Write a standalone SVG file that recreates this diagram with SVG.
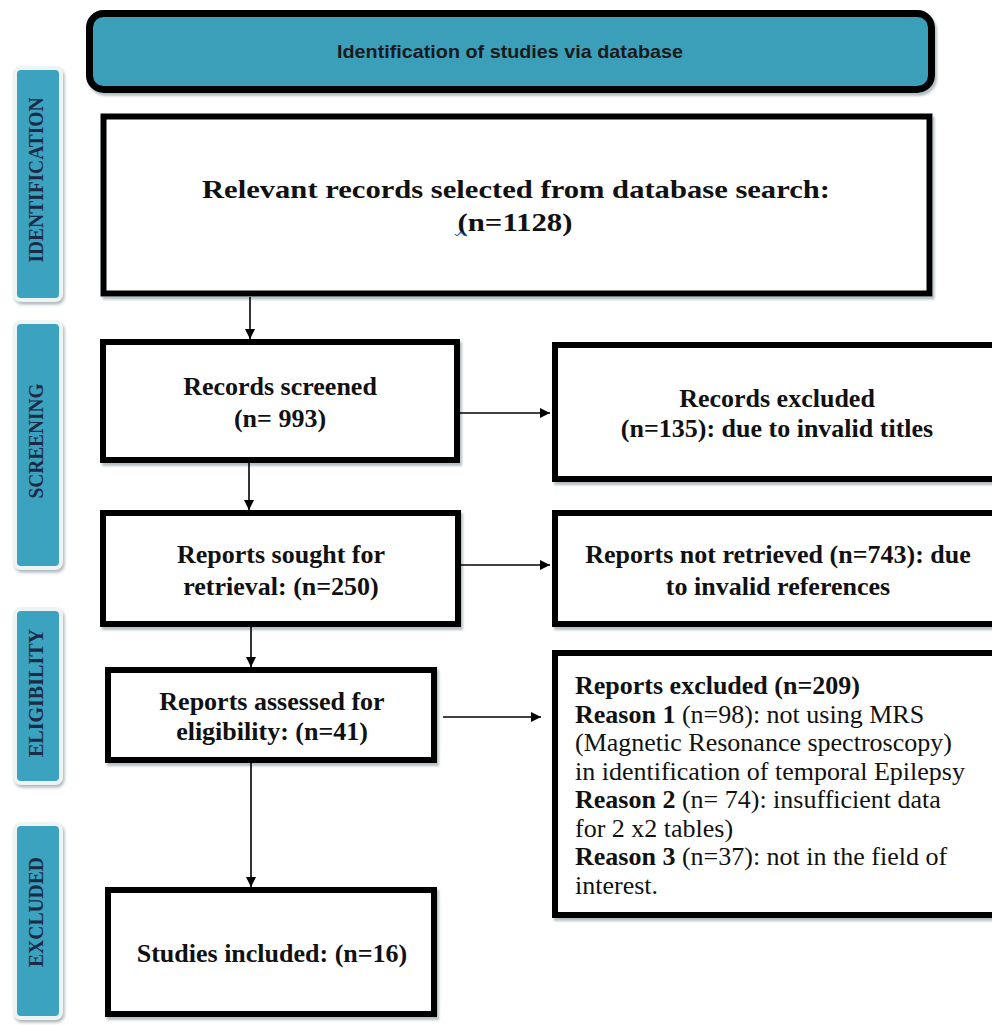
<svg xmlns="http://www.w3.org/2000/svg" width="992" height="1025" viewBox="0 0 992 1025">
  <defs>
    <filter id="shadow" x="-5%" y="-5%" width="110%" height="115%">
      <feDropShadow dx="2" dy="3" stdDeviation="1.2" flood-color="#7a8a90" flood-opacity="0.55"/>
    </filter>
    <filter id="tabShadow" x="-20%" y="-5%" width="140%" height="110%">
      <feDropShadow dx="1.5" dy="2.5" stdDeviation="1.5" flood-color="#8a989c" flood-opacity="0.7"/>
    </filter>
    <marker id="arrow" viewBox="0 0 10 10" refX="10" refY="5" markerWidth="10" markerHeight="10" markerUnits="userSpaceOnUse" orient="auto">
      <path d="M0,0 L10,5 L0,10 z" fill="#000"/>
    </marker>
    <style>
      .box { fill: #fff; stroke: #000; stroke-width: 6; filter: url(#shadow); }
      .tab { fill: #3ba3bf; stroke: #eef3f4; stroke-width: 4; filter: url(#tabShadow); }
      .tabText { font-family: "Liberation Serif", "Times New Roman", serif; font-weight: bold; font-size: 20px; fill: #1b2b45; text-anchor: middle; }
      .t { font-family: "Liberation Serif", "Times New Roman", serif; font-weight: bold; font-size: 26px; fill: #111; text-anchor: middle; }
      .body { font-family: "Liberation Serif", "Times New Roman", serif; font-size: 26px; fill: #111; }
      .b { font-weight: bold; }
      .conn { stroke: #000; stroke-width: 1.6; fill: none; marker-end: url(#arrow); }
    </style>
  </defs>

  <rect width="992" height="1025" fill="#fff"/>

  <!-- header banner -->
  <g id="header">
    <rect x="89.5" y="13.5" width="842" height="76" rx="14" ry="14" fill="#3a9fba" stroke="#000" stroke-width="7" filter="url(#shadow)"/>
    <text x="510" y="58" font-family="'Liberation Sans Narrow', 'Liberation Sans', Arial, sans-serif" font-weight="bold" font-size="19" fill="#1a1a1a" text-anchor="middle" textLength="346" lengthAdjust="spacingAndGlyphs">Identification of studies via database</text>
  </g>

  <!-- phase tabs -->
  <g id="tab-identification">
    <rect class="tab" x="15" y="68" width="46" height="232" rx="6"/>
    <text class="tabText" transform="translate(43,180) rotate(-90)" textLength="165" lengthAdjust="spacingAndGlyphs">IDENTIFICATION</text>
  </g>
  <g id="tab-screening">
    <rect class="tab" x="15" y="322" width="46" height="246" rx="6"/>
    <text class="tabText" transform="translate(43,441) rotate(-90)" textLength="115" lengthAdjust="spacingAndGlyphs">SCREENING</text>
  </g>
  <g id="tab-eligibility">
    <rect class="tab" x="15" y="609" width="46" height="174" rx="6"/>
    <text class="tabText" transform="translate(43,693) rotate(-90)" textLength="128" lengthAdjust="spacingAndGlyphs">ELIGIBILITY</text>
  </g>
  <g id="tab-excluded">
    <rect class="tab" x="15" y="824" width="46" height="194" rx="6"/>
    <text class="tabText" transform="translate(43,912) rotate(-90)" textLength="110" lengthAdjust="spacingAndGlyphs">EXCLUDED</text>
  </g>

  <!-- flow boxes -->
  <g id="node-records-selected">
    <rect class="box" x="103.5" y="116.5" width="826" height="177" stroke-width="7"/>
    <text class="t" x="516" y="198" font-size="34" textLength="628" lengthAdjust="spacingAndGlyphs">Relevant records selected from database search:</text>
    <text class="t" x="515" y="231" font-size="34" textLength="115" lengthAdjust="spacingAndGlyphs">(n=1128)</text>
    <path d="M455,234 q2,3 4,0 q2,-3 4,0 q1,2 3,1" stroke="#3a5fb0" stroke-width="1.3" fill="none"/>
  </g>

  <g id="node-records-screened">
    <rect class="box" x="103" y="342" width="354" height="118"/>
    <text class="t" x="280" y="395">Records screened</text>
    <text class="t" x="280" y="427">(n= 993)</text>
  </g>

  <g id="node-records-excluded">
    <rect class="box" x="555" y="345" width="460" height="134"/>
    <text class="t" x="777" y="407">Records excluded</text>
    <text class="t" x="777" y="437">(n=135): due to invalid titles</text>
  </g>

  <g id="node-reports-sought">
    <rect class="box" x="103" y="513" width="355" height="111"/>
    <text class="t" x="281" y="563">Reports sought for</text>
    <text class="t" x="281" y="595">retrieval: (n=250)</text>
  </g>

  <g id="node-reports-not-retrieved">
    <rect class="box" x="555" y="513" width="460" height="111"/>
    <text class="t" x="778" y="563">Reports not retrieved (n=743): due</text>
    <text class="t" x="778" y="595">to invalid references</text>
  </g>

  <g id="node-reports-assessed">
    <rect class="box" x="108" y="670" width="326" height="90"/>
    <text class="t" x="272" y="710">Reports assessed for</text>
    <text class="t" x="272" y="740">eligibility: (n=41)</text>
  </g>

  <g id="node-reports-excluded">
    <rect class="box" x="555" y="653" width="460" height="262"/>
    <text class="body" x="575" y="694"><tspan class="b">Reports excluded (n=209)</tspan></text>
    <text class="body" x="575" y="722.5"><tspan class="b">Reason 1</tspan> (n=98): not using MRS</text>
    <text class="body" x="575" y="751">(Magnetic Resonance spectroscopy)</text>
    <text class="body" x="575" y="779.5">in identification of temporal Epilepsy</text>
    <text class="body" x="575" y="808"><tspan class="b">Reason 2</tspan> (n= 74): insufficient data</text>
    <text class="body" x="575" y="836.5">for 2 x2 tables)</text>
    <text class="body" x="575" y="865"><tspan class="b">Reason 3</tspan> (n=37): not in the field of</text>
    <text class="body" x="575" y="893.5">interest.</text>
  </g>

  <g id="node-studies-included">
    <rect class="box" x="108" y="890" width="326" height="124"/>
    <text class="t" x="272" y="962">Studies included: (n=16)</text>
  </g>

  <!-- connectors -->
  <g id="connectors">
    <line class="conn" x1="250" y1="297" x2="250" y2="339"/>
    <line class="conn" x1="249" y1="463" x2="249" y2="510"/>
    <line class="conn" x1="251" y1="627" x2="251" y2="667"/>
    <line class="conn" x1="251" y1="763" x2="251" y2="887"/>
    <line class="conn" x1="460" y1="413" x2="550" y2="413"/>
    <line class="conn" x1="461" y1="565" x2="550" y2="565"/>
    <line class="conn" x1="443" y1="717" x2="541" y2="717"/>
  </g>
</svg>
